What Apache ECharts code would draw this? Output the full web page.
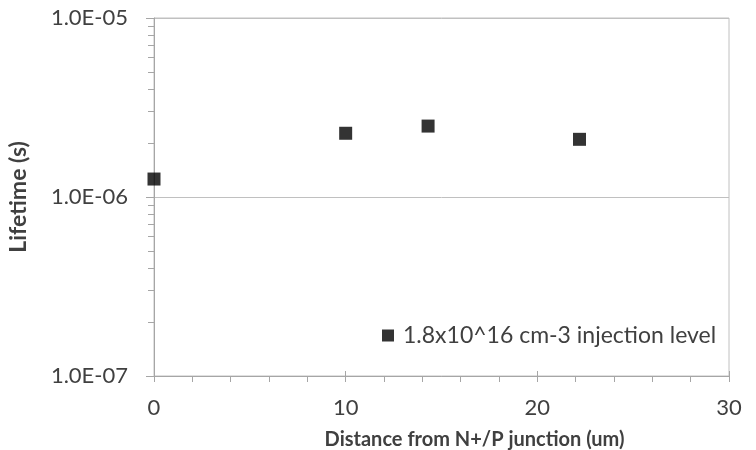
<!DOCTYPE html>
<html>
<head>
<meta charset="utf-8">
<script src="https://cdn.jsdelivr.net/npm/echarts@6/dist/echarts.min.js"></script>
<style>html,body{margin:0;padding:0;background:#fff}#c{width:756px;height:450px}</style>
</head>
<body>
<div id="c"></div>
<script>
const seriesName = '1.8x10^16 cm-3 injection level';
const distance = [0, 10, 14.3, 22.2];
const lifetime = [1.26e-6, 2.27e-6, 2.49e-6, 2.10e-6];
const yMinorTicks = [2e-7,3e-7,4e-7,5e-7,6e-7,7e-7,8e-7,9e-7,2e-6,3e-6,4e-6,5e-6,6e-6,7e-6,8e-6,9e-6];

const FONT = 'Lato';
const TXT = '#404040';
const AX = '#a6a6a6';

function fmt(v) {
  const e = Math.round(Math.log10(v));
  const m = v / Math.pow(10, e);
  const s = e < 0 ? '-' : '+';
  const a = Math.abs(e);
  return m.toFixed(1) + 'E' + s + (a < 10 ? '0' + a : a);
}

const chart = echarts.init(document.getElementById('c'), null, {renderer: 'canvas'});
chart.setOption({
  animation: false,
  backgroundColor: '#fff',
  grid: {left: 154, right: 27, top: 18, bottom: 74, show: true, borderColor: '#c0c0c0', borderWidth: 1,
         containLabel: false, outerBoundsMode: 'none'},
  legend: {
    left: 377, top: 319, icon: 'rect', itemWidth: 12, itemHeight: 12, itemGap: 8,
    textStyle: {fontFamily: FONT, fontSize: 23, color: TXT, padding: [0, 0, 0, 4]},
    data: [seriesName]
  },
  xAxis: [{
    type: 'value', min: 0, max: 30, interval: 10,
    name: 'Distance from N+/P junction (um)', nameLocation: 'middle', nameGap: 54,
    nameTextStyle: {fontFamily: FONT, fontSize: 20, fontWeight: 'bold', color: TXT, padding: [0, 0, 0, 66]},
    axisLine: {show: true, lineStyle: {color: AX}},
    axisTick: {show: true, length: 6, lineStyle: {color: AX}},
    minorTick: {show: true, splitNumber: 5, length: 6, lineStyle: {color: AX}},
    axisLabel: {fontFamily: FONT, fontSize: 22, color: TXT, margin: 21},
    splitLine: {show: false}
  }, {
    type: 'value', min: 0, max: 30, interval: 10, position: 'bottom',
    axisLine: {show: false},
    axisTick: {show: true, inside: true, length: 5, lineStyle: {color: AX}},
    axisLabel: {show: false}, splitLine: {show: false}
  }],
  yAxis: [{
    type: 'log', logBase: 10, min: 1e-7, max: 1e-5,
    name: 'Lifetime (s)', nameLocation: 'middle', nameGap: 124,
    nameTextStyle: {fontFamily: FONT, fontSize: 23, fontWeight: 'bold', color: TXT},
    axisLine: {show: true, lineStyle: {color: AX}},
    axisTick: {show: true, length: 8, lineStyle: {color: AX}},
    axisLabel: {fontFamily: FONT, fontSize: 22, color: TXT, margin: 26, formatter: fmt},
    splitLine: {show: true, lineStyle: {color: '#c0c0c0'}}
  }, {
    type: 'log', logBase: 10, min: 1e-7, max: 1e-5, position: 'left',
    axisLine: {show: false},
    axisTick: {show: true, length: 6, customValues: yMinorTicks, lineStyle: {color: AX}},
    axisLabel: {show: false}, splitLine: {show: false}
  }],
  series: [{
    name: seriesName, type: 'scatter', symbol: 'rect', symbolSize: 13,
    itemStyle: {color: '#000'},
    data: distance.map((d, i) => [d, lifetime[i]])
  }]
});
</script>
</body>
</html>
